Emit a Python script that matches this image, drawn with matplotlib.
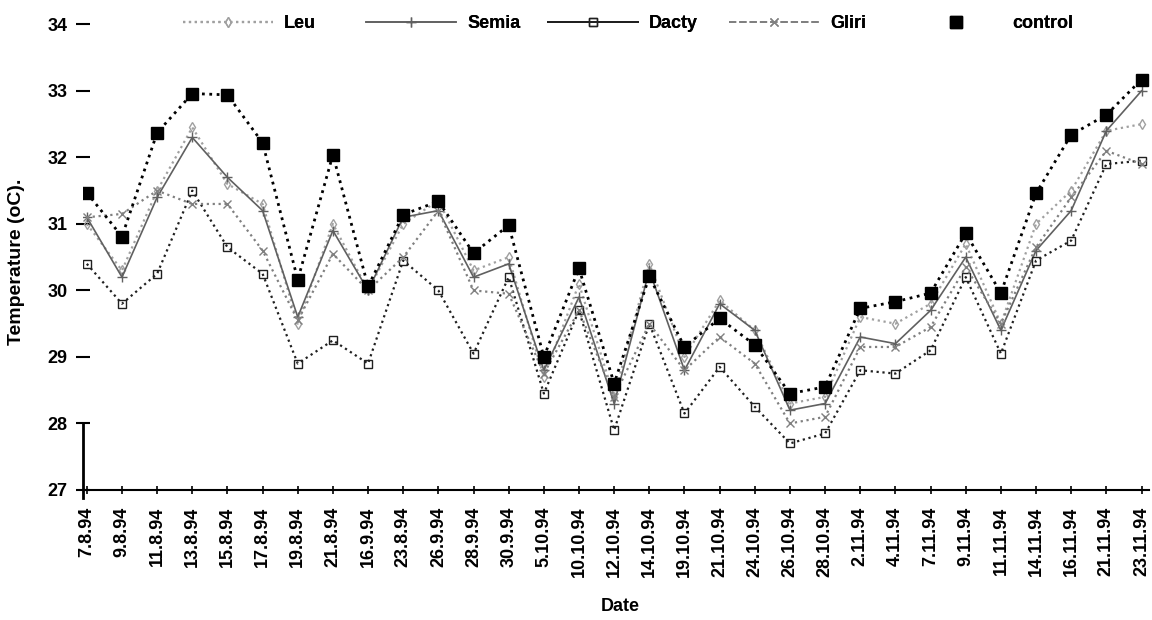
import numpy as np
import matplotlib
matplotlib.use("Agg")
import matplotlib.pyplot as plt
from matplotlib.lines import Line2D

plt.rcParams['font.family'] = ['Liberation Sans', 'DejaVu Sans']
plt.rcParams['font.weight'] = 'bold'
plt.rcParams['axes.labelweight'] = 'bold'

dates = ["7.8.94", "9.8.94", "11.8.94", "13.8.94", "15.8.94", "17.8.94", "19.8.94",
         "21.8.94", "16.9.94", "23.8.94", "26.9.94", "28.9.94", "30.9.94", "5.10.94",
         "10.10.94", "12.10.94", "14.10.94", "19.10.94", "21.10.94", "24.10.94",
         "26.10.94", "28.10.94", "2.11.94", "4.11.94", "7.11.94", "9.11.94",
         "11.11.94", "14.11.94", "16.11.94", "21.11.94", "23.11.94"]

leu = [31.0, 30.3, 31.5, 32.45, 31.6, 31.3, 29.5, 31.0, 30.0, 31.0, 31.35, 30.3,
       30.5, 28.7, 30.1, 28.4, 30.4, 29.0, 29.85, 29.4, 28.3, 28.4, 29.6, 29.5,
       29.8, 30.7, 29.5, 31.0, 31.5, 32.4, 32.5]
semia = [31.1, 30.2, 31.4, 32.3, 31.7, 31.2, 29.6, 30.9, 30.0, 31.1, 31.2, 30.2,
         30.4, 28.8, 29.9, 28.3, 30.3, 28.8, 29.8, 29.4, 28.2, 28.3, 29.3, 29.2,
         29.7, 30.5, 29.4, 30.6, 31.2, 32.4, 33.0]
dacty = [30.4, 29.8, 30.25, 31.5, 30.65, 30.25, 28.9, 29.25, 28.9, 30.45, 30.0, 29.05,
         30.2, 28.45, 29.7, 27.9, 29.5, 28.15, 28.85, 28.25, 27.7, 27.85, 28.8, 28.75,
         29.1, 30.2, 29.05, 30.45, 30.75, 31.9, 31.95]
gliri = [31.1, 31.15, 31.5, 31.3, 31.3, 30.6, 29.55, 30.55, 30.0, 30.5, 31.2, 30.0,
         29.95, 28.75, 29.7, 28.4, 29.5, 28.8, 29.3, 28.9, 28.0, 28.1, 29.15, 29.15,
         29.45, 30.35, 29.5, 30.65, 31.4, 32.1, 31.9]
control = [31.47, 30.81, 32.37, 32.96, 32.94, 32.22, 30.16, 32.04, 30.06, 31.14, 31.34,
           30.56, 30.98, 29.0, 30.33, 28.6, 30.21, 29.15, 29.58, 29.18, 28.45, 28.55,
           29.73, 29.83, 29.96, 30.86, 29.96, 31.46, 32.34, 32.64, 33.17]

x = np.arange(len(dates))

fig = plt.figure(figsize=(11.52, 6.2), dpi=100)
ax = fig.add_axes([0.072, 0.2097, 0.925, 0.751])

styles = {
    'Leu': dict(color='#a0a0a0', ls=':', lw=1.6, marker='d', ms=5, mfc='none'),
    'Semia': dict(color='#606060', ls='-', lw=1.2, marker='+', ms=7),
    'Dacty': dict(color='#202020', ls=':', lw=1.6, marker='s', ms=6, mfc='none'),
    'Gliri': dict(color='#808080', ls=':', lw=1.6, marker='x', ms=6),
    'control': dict(color='black', ls=':', lw=2.0, marker='s', ms=8, mfc='black'),
}
series = {'Leu': leu, 'Semia': semia, 'Dacty': dacty, 'Gliri': gliri, 'control': control}
for name, vals in series.items():
    ax.plot(x, vals, **styles[name])

ax.set_xlim(-0.11, 30.2)
ax.set_ylim(27, 34)
ax.set_yticks(range(27, 35))
ax.set_xticks(x)
ax.set_xticklabels(dates, rotation=90, fontsize=13)
ax.tick_params(axis='y', labelsize=13, direction='inout', length=10, width=1.5, pad=6)
ax.tick_params(axis='x', direction='inout', length=6, width=1.2, pad=9)

for side in ['top', 'right']:
    ax.spines[side].set_visible(False)
ax.spines['left'].set_bounds(26.88, 28)
ax.spines['left'].set_linewidth(2)
ax.spines['bottom'].set_linewidth(1.5)

ax.set_ylabel('Temperature (oC).', fontsize=14)
ax.yaxis.set_label_coords(-0.054, 0.49)
ax.set_xlabel('Date', fontsize=13)
ax.xaxis.set_label_coords(0.504, -0.232)

# legend: five fixed-width columns like the original
legend_style = dict(styles)
legend_style['Dacty'] = dict(styles['Dacty'], ls='-', lw=1.4)
legend_style['Gliri'] = dict(styles['Gliri'], ls='--', lw=1.4)
legend_style['control'] = dict(styles['control'], ls='none')
col_x = [183, 366, 548, 729, 911]
for cx, name in zip(col_x, series):
    h = Line2D([], [], **legend_style[name])
    leg = fig.legend([h], [name], loc='center left', frameon=False,
                     bbox_to_anchor=(cx / 1152, 1 - 24 / 620), borderaxespad=0,
                     borderpad=0, fontsize=13, handlelength=5.0, handletextpad=0.6)
    fig.add_artist(leg)

fig.savefig('out.png', dpi=100)
